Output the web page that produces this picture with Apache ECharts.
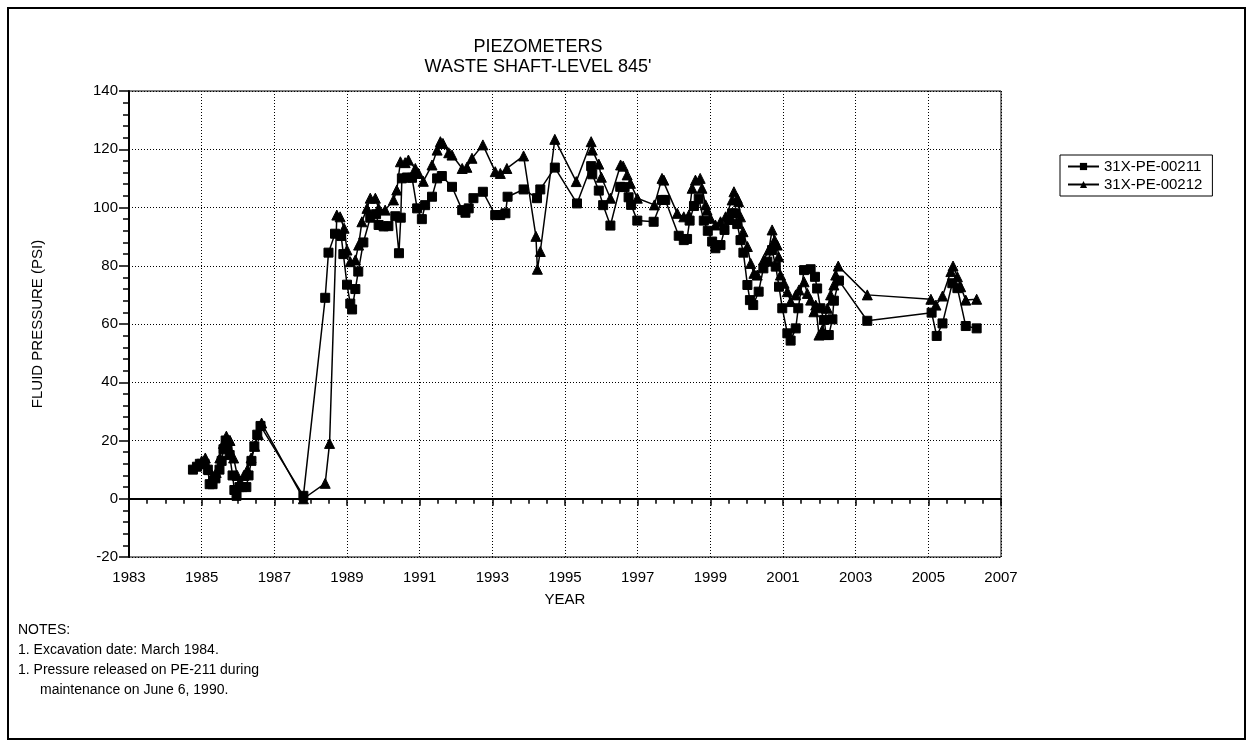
<!DOCTYPE html>
<html>
<head>
<meta charset="utf-8">
<script src="https://cdn.jsdelivr.net/npm/echarts@6/dist/echarts.min.js"></script>
<style>
  html, body { margin: 0; padding: 0; background: #fff; }
  #chart { width: 1254px; height: 747px; }
</style>
</head>
<body>
<div id="chart"></div>
<script>
// Piezometer readings, waste shaft level 845'. Decimal year and fluid pressure (psi).
const pe211Years = [
  1984.76, 1984.87, 1984.95, 1985.08, 1985.17, 1985.22, 1985.30, 1985.38, 1985.49, 1985.55,
  1985.60, 1985.66, 1985.71, 1985.77, 1985.85, 1985.90, 1985.96, 1986.04, 1986.12, 1986.23,
  1986.29, 1986.37, 1986.45, 1986.53, 1986.62, 1987.80,
  1988.40, 1988.49, 1988.67, 1988.84, 1988.90, 1989.00, 1989.09, 1989.14, 1989.23, 1989.31,
  1989.45, 1989.64, 1989.80, 1989.87, 1990.01, 1990.14, 1990.33, 1990.43, 1990.48, 1990.51,
  1990.65, 1990.79, 1990.93, 1991.06, 1991.15, 1991.34, 1991.48, 1991.61, 1991.89, 1992.17,
  1992.26, 1992.35, 1992.48, 1992.74, 1993.08, 1993.22, 1993.36, 1993.42, 1993.86, 1994.23,
  1994.32, 1994.72, 1995.33, 1995.72, 1995.75, 1995.93, 1996.05, 1996.25, 1996.52, 1996.64,
  1996.75, 1996.82, 1996.99, 1997.44, 1997.67, 1997.76, 1998.13, 1998.27, 1998.36, 1998.43,
  1998.55, 1998.68, 1998.82, 1998.93, 1999.05, 1999.14, 1999.28, 1999.39, 1999.51, 1999.60,
  1999.69, 1999.74, 1999.83, 1999.91, 2000.02, 2000.09, 2000.18, 2000.33, 2000.46, 2000.57,
  2000.70, 2000.80, 2000.89, 2000.98, 2001.12, 2001.21, 2001.35, 2001.42, 2001.58, 2001.76,
  2001.88, 2001.94, 2002.03, 2002.13, 2002.19, 2002.26, 2002.36, 2002.40, 2002.54, 2003.32,
  2005.09, 2005.23, 2005.39, 2005.66, 2005.80, 2006.03, 2006.33
];
const pe211Psi = [
  10, 11, 12, 12, 10, 5, 5, 7, 10, 13,
  17, 20, 18, 15, 8, 3, 1, 4, 4, 4,
  8, 13, 18, 22, 25, 1,
  69, 84.5, 91, 90.2, 84, 73.5, 67, 65, 72, 78,
  88, 96.5, 97.7, 94, 93.5, 93.6, 97, 84.3, 96.5, 110,
  110.3, 110.2, 99.7, 96, 100.8, 103.7, 110, 110.8, 107.1, 99.1,
  98.2, 99.7, 103.2, 105.4, 97.4, 97.4, 98, 103.7, 106.2, 103.2,
  106.2, 113.7, 101.4, 114.2, 111.4, 105.8, 100.8, 93.8, 107.1, 107,
  103.5, 100.9, 95.5, 95.1, 102.6, 102.6, 90.3, 88.8, 89.2, 95.5,
  100.5, 103, 95.5, 92, 88.3, 86, 87.1, 92.3, 95.7, 98,
  98, 94.3, 88.8, 84.5, 73.4, 68.2, 66.5, 71.1, 79.1, 81.4,
  85.4, 79.7, 72.8, 65.4, 56.8, 54.3, 58.5, 65.4, 78.5, 78.8,
  76.2, 72.2, 65.4, 61.4, 56.2, 56.2, 61.6, 68, 74.9, 61.1,
  63.9, 55.9, 60.2, 74, 72.3, 59.3, 58.5
];

const pe212Years = [
  1984.90, 1985.00, 1985.10, 1985.20, 1985.30, 1985.40, 1985.50, 1985.60, 1985.68, 1985.78,
  1985.88, 1985.98, 1986.06, 1986.16, 1986.26, 1986.36, 1986.46, 1986.56, 1986.65, 1987.80,
  1988.40, 1988.52, 1988.72, 1988.81, 1988.92, 1989.00, 1989.09, 1989.23, 1989.32, 1989.41,
  1989.55, 1989.64, 1989.78, 1989.87, 1990.05, 1990.28, 1990.37, 1990.47, 1990.60, 1990.69,
  1990.88, 1990.97, 1991.10, 1991.34, 1991.48, 1991.57, 1991.64, 1991.80, 1991.89, 1992.17,
  1992.30, 1992.44, 1992.74, 1993.08, 1993.22, 1993.40, 1993.86, 1994.20, 1994.24, 1994.32,
  1994.72, 1995.31, 1995.72, 1995.75, 1995.93, 1996.00, 1996.25, 1996.53, 1996.60, 1996.71,
  1996.80, 1996.99, 1997.46, 1997.67, 1997.72, 1998.09, 1998.27, 1998.41, 1998.50, 1998.59,
  1998.72, 1998.77, 1998.87, 1998.91, 1999.00, 1999.14, 1999.28, 1999.42, 1999.60, 1999.65,
  1999.74, 1999.78, 1999.83, 1999.90, 2000.02, 2000.11, 2000.20, 2000.29, 2000.47, 2000.61,
  2000.70, 2000.77, 2000.84, 2000.88, 2000.93, 2001.03, 2001.12, 2001.21, 2001.35, 2001.44,
  2001.58, 2001.67, 2001.76, 2001.85, 2001.90, 2001.99, 2002.08, 2002.22, 2002.31, 2002.40,
  2002.45, 2002.52, 2003.32, 2005.07, 2005.21, 2005.39, 2005.62, 2005.68, 2005.80, 2005.89,
  2006.03, 2006.33
];
const pe212Psi = [
  12, 13, 14, 10, 8, 9, 14, 19, 21.5, 20,
  14, 8, 6, 8, 10, 14, 18, 22, 26, 0,
  5.3, 19, 97.4, 96.8, 92.9, 85.4, 81.4, 82, 87.1, 95.1,
  99.7, 103.2, 103.2, 99.7, 99.1, 102.6, 106, 115.7, 115.4, 116.3,
  113.4, 111.7, 109, 114.6, 119.7, 122.6, 122, 118.8, 118, 113.4,
  113.8, 116.9, 121.5, 112.3, 111.7, 113.4, 117.7, 90.1, 78.8, 84.9,
  123.4, 108.9, 122.6, 119.7, 114.9, 110.4, 103.2, 114.6, 114.2, 111.2,
  108.3, 103.2, 100.9, 110, 109.4, 98, 96.8, 97.4, 106.6, 109.4,
  110, 106.6, 100.9, 99.1, 96.3, 94, 95.1, 96.8, 102.6, 105.4,
  103.2, 102, 96.8, 91.7, 86.6, 80.8, 77.4, 76.8, 82, 85.4,
  92.3, 88.8, 87.1, 83.1, 76.8, 74, 71.1, 67.7, 70, 71.7,
  74.5, 70.5, 68.2, 64.2, 66.5, 56.2, 57.9, 65.4, 70, 73.4,
  76.8, 79.9, 70, 68.5, 66.5, 69.6, 78, 79.9, 76.2, 72.8,
  68.2, 68.5
];

const seriesNames = ['31X-PE-00211', '31X-PE-00212'];
const titleLines = ['PIEZOMETERS', "WASTE SHAFT-LEVEL 845'"];
const noteLines = [
  'NOTES:',
  '1. Excavation date: March 1984.',
  '1. Pressure released on PE-211 during'
];
const noteContinuation = 'maintenance on June 6, 1990.';

const zip = (xs, ys) => xs.map((x, i) => [x, ys[i]]);
const FONT = 'Liberation Sans, Arial, sans-serif';
const noteStyle = { fontFamily: FONT, fontSize: 14, lineHeight: 20, fill: '#000' };

const chart = echarts.init(document.getElementById('chart'), null, { renderer: 'canvas' });

chart.setOption({
  backgroundColor: '#fff',
  animation: false,
  textStyle: { fontFamily: FONT, color: '#000' },
  title: {
    text: titleLines.join('\n'),
    left: 533,
    top: 32,
    textAlign: 'center',
    textStyle: { fontFamily: FONT, fontSize: 18, fontWeight: 'normal', color: '#000', lineHeight: 20 }
  },
  legend: {
    data: seriesNames,
    orient: 'vertical',
    left: 1060,
    top: 155,
    padding: [3, 10, 3, 7],
    itemGap: 1,
    itemWidth: 31,
    itemHeight: 9,
    borderColor: '#000',
    borderWidth: 1,
    textStyle: { fontFamily: FONT, fontSize: 15, color: '#000', lineHeight: 17 }
  },
  grid: {
    left: 129, right: 253, top: 91, bottom: 190,
    show: true, borderColor: '#000', borderWidth: 1
  },
  xAxis: {
    type: 'value',
    min: 1983, max: 2007, interval: 2,
    name: 'YEAR', nameLocation: 'middle', nameGap: 35,
    nameTextStyle: { fontFamily: FONT, fontSize: 15, color: '#000' },
    axisLine: { lineStyle: { color: '#000', width: 2 } },
    axisTick: { length: 7, lineStyle: { color: '#000', width: 1.5 } },
    minorTick: { show: true, splitNumber: 4, length: 5, lineStyle: { color: '#000', width: 1.5 } },
    axisLabel: { fontFamily: FONT, fontSize: 15, color: '#000', margin: 13, formatter: v => String(v) },
    splitLine: { show: true, lineStyle: { color: '#000', type: [1, 2], width: 1 } }
  },
  yAxis: {
    type: 'value',
    min: -20, max: 140, interval: 20,
    name: 'FLUID PRESSURE (PSI)', nameLocation: 'middle', nameGap: 84,
    nameTextStyle: { fontFamily: FONT, fontSize: 15, color: '#000' },
    axisLine: { lineStyle: { color: '#000', width: 2 } },
    axisTick: { length: 10, lineStyle: { color: '#000', width: 1.5 } },
    minorTick: { show: true, splitNumber: 5, length: 6, lineStyle: { color: '#000', width: 1.5 } },
    axisLabel: { fontFamily: FONT, fontSize: 15, color: '#000', margin: 11 },
    splitLine: { show: true, lineStyle: { color: '#000', type: [1, 2], width: 1 } }
  },
  series: [
    {
      name: seriesNames[1],
      type: 'line',
      data: zip(pe212Years, pe212Psi),
      symbol: 'triangle',
      symbolSize: 10,
      showAllSymbol: true,
      lineStyle: { color: '#000', width: 1.5 },
      itemStyle: { color: '#000', borderColor: '#000' }
    },
    {
      name: seriesNames[0],
      type: 'line',
      data: zip(pe211Years, pe211Psi),
      symbol: 'rect',
      symbolSize: 9,
      showAllSymbol: true,
      lineStyle: { color: '#000', width: 1.5 },
      itemStyle: { color: '#000', borderColor: '#000' }
    }
  ],
  graphic: [
    {
      type: 'rect',
      shape: { x: 8, y: 8, width: 1237, height: 731 },
      style: { fill: 'none', stroke: '#000', lineWidth: 2 },
      silent: true
    },
    {
      type: 'text',
      left: 18,
      top: 620,
      style: Object.assign({ text: noteLines.join('\n') }, noteStyle)
    },
    {
      type: 'text',
      left: 40,
      top: 680,
      style: Object.assign({ text: noteContinuation }, noteStyle)
    }
  ]
});
</script>
</body>
</html>
